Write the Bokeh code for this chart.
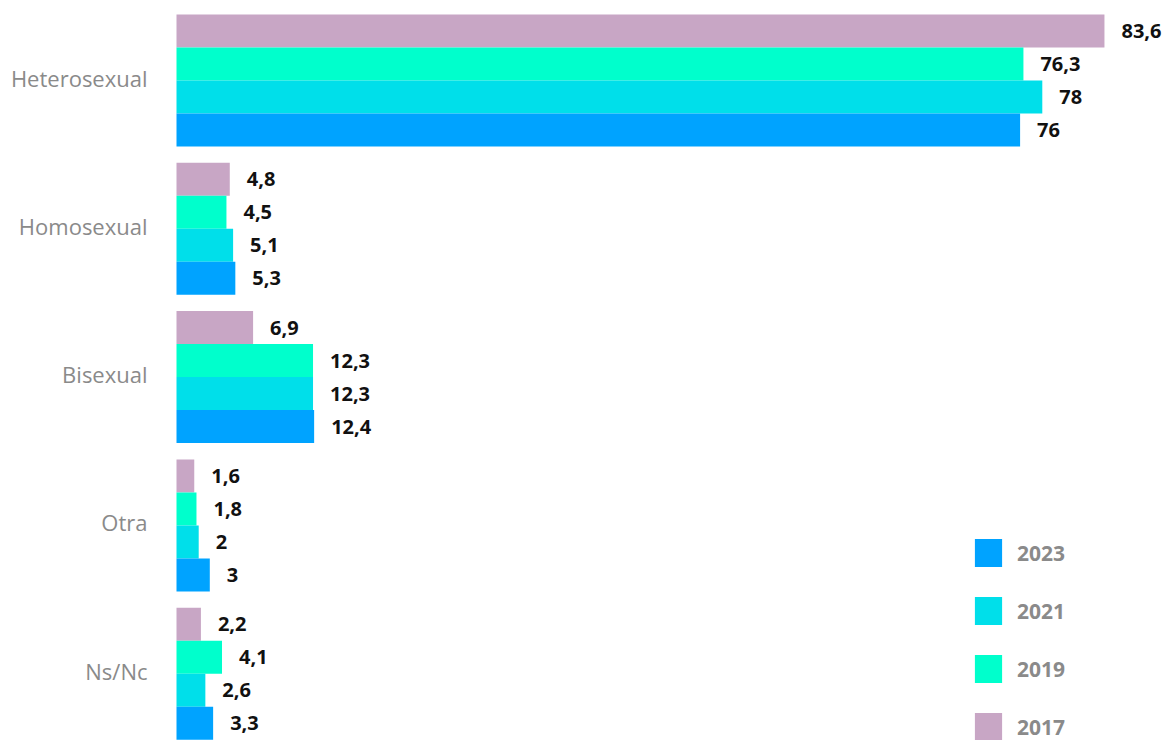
from bokeh.plotting import figure
from bokeh.models import ColumnDataSource, Legend, LegendItem
from bokeh.core.properties import value
from bokeh.embed import file_html
from bokeh.resources import INLINE

categories = ["Heterosexual", "Homosexual", "Bisexual", "Otra", "Ns/Nc"]
years = ["2017", "2019", "2021", "2023"]
v2017 = [83.6, 4.8, 6.9, 1.6, 2.2]
v2019 = [76.3, 4.5, 12.3, 1.8, 4.1]
v2021 = [78, 5.1, 12.3, 2, 2.6]
v2023 = [76, 5.3, 12.4, 3, 3.3]
series = {"2017": v2017, "2019": v2019, "2021": v2021, "2023": v2023}
colors = {"2017": "#c8a6c5", "2019": "#00ffcc", "2021": "#00dfea", "2023": "#00a3ff"}
offsets = {"2017": 1.5, "2019": 0.5, "2021": -0.5, "2023": -1.5}

FONT = "Open Sans"
bar_h = 0.2225
W, H = 1168, 740
px_per_unit_x = 11.1
x0 = -176 / px_per_unit_x
x1 = x0 + W / px_per_unit_x
px_per_unit_y = 148.3
y1 = 4 + 80 / px_per_unit_y
y0 = y1 - H / px_per_unit_y

p = figure(width=W, height=H, x_range=(x0, x1), y_range=(y0, y1),
           output_backend="svg", toolbar_location=None,
           min_border_left=0, min_border_right=0, min_border_top=0, min_border_bottom=0)
p.xaxis.visible = False
p.yaxis.visible = False
p.grid.visible = False
p.outline_line_color = None
p.background_fill_color = "white"

centers = [len(categories) - 1 - i for i in range(len(categories))]

renderers = {}
for yr in years:
    vals = series[yr]
    ys = [c + offsets[yr] * bar_h for c in centers]
    src = ColumnDataSource(dict(y=ys, v=vals,
                                lab=[f"{v:g}".replace(".", ",") for v in vals]))
    r = p.hbar(y="y", right="v", left=0, height=bar_h, source=src,
               fill_color=colors[yr], line_color=None)
    renderers[yr] = r
    p.text(x="v", y="y", text="lab", source=src, x_offset=17,
           text_align="left", text_baseline="middle",
           text_font=value(FONT), text_font_size="20px", text_font_style="bold",
           text_color="#111111")

cat_src = ColumnDataSource(dict(x=[-29 / px_per_unit_x] * len(categories), y=centers, t=categories))
p.text(x="x", y="y", text="t", source=cat_src, text_align="right", y_offset=-3,
       text_baseline="middle", text_font=value(FONT), text_font_size="22px",
       text_color="#8a8a8a")

legend = Legend(items=[LegendItem(label=yr, renderers=[renderers[yr]])
                       for yr in ["2023", "2021", "2019", "2017"]],
                location=(971, -4), orientation="vertical",
                glyph_width=34, glyph_height=35, spacing=23, padding=0, margin=0,
                label_standoff=12, label_text_font=FONT, label_text_font_size="21px",
                label_text_font_style="bold", label_text_color="#8a8a8a",
                border_line_color=None, background_fill_alpha=0)
p.add_layout(legend)

open("out.html", "w").write(file_html(p, INLINE))
